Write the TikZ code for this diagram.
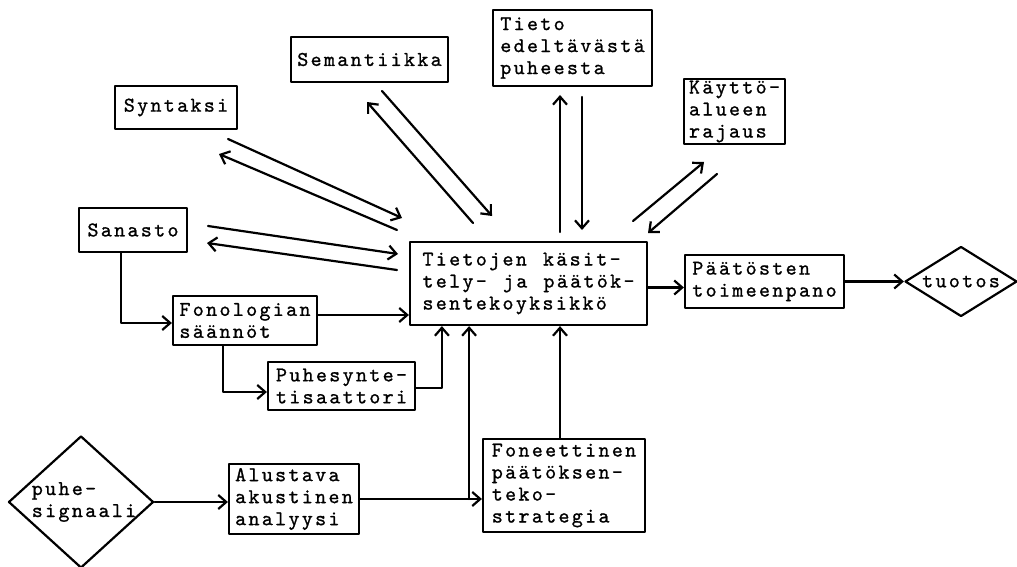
\documentclass[tikz,border=0pt]{standalone}
\usepackage{fontspec}
\setmonofont{lmmono10-regular.otf}[LetterSpace=11,WordSpace=1.21,FakeBold=1]
\usetikzlibrary{arrows.meta,calc,shapes.geometric}

\tikzset{
  txt/.style={align=left, inner sep=0pt, font=\ttfamily\fontsize{21}{22}\selectfont},
  box/.style={txt, draw, rectangle},
  diam/.style={draw, diamond, inner sep=0pt},
}

\begin{document}
\begin{tikzpicture}[x=1pt, y=-1pt, line width=2.2pt, line cap=round, line join=round, >={Straight Barb[length=8pt,width=14pt]}]
  \useasboundingbox (0,0) rectangle (1017,567);
  % --- knowledge sources ---
  \node[box, minimum width=157pt, minimum height=45pt] (sem) at (369.5,59.5) {Semantiikka};
  \node[box, minimum width=122pt, minimum height=43pt] (syn) at (176,107.5) {Syntaksi};
  \node[box, minimum width=108pt, minimum height=44pt] (san) at (133,230) {Sanasto};
  \node[box, minimum width=159pt, minimum height=76pt] (tie) at (572.5,48) {Tieto\\edeltävästä\\puheesta};
  \node[box, minimum width=101pt, minimum height=65pt] (kay) at (734.5,111.5) {Käyttö-\\alueen\\rajaus};
  % --- central unit and output ---
  \node[box, minimum width=237pt, minimum height=83pt] (cen) at (528.5,283.5) {Tietojen käsit-\\tely- ja päätök-\\sentekoyksikkö};
  \node[box, minimum width=159pt, minimum height=53pt] (paa) at (764.5,281.5) {Päätösten\\toimeenpano};
  \node[diam, txt, draw, minimum width=112pt, minimum height=70pt, aspect=1.6] (tuo) at (961,281.5) {tuotos};
  % --- left side ---
  \node[box, minimum width=144pt, minimum height=49pt] (fon) at (245,320.5) {Fonologian\\säännöt};
  \node[box, minimum width=147pt, minimum height=48pt] (puh) at (341.5,386) {Puhesynte-\\tisaattori};
  % --- input side ---
  \node[diam, minimum width=145pt, minimum height=132pt] (sig) at (81,502) {};
  \node[txt] (sigtxt) at (84,502) {puhe-\\signaali};
  \node[box, minimum width=130pt, minimum height=70pt] (alu) at (294,499) {Alustava\\akustinen\\analyysi};
  \node[box, minimum width=162pt, minimum height=93pt] (fne) at (564,485.5) {Foneettinen\\päätöksen-\\teko-\\strategia};

  % --- two-way links to the central unit ---
  \coordinate (syn1) at (228,139); \coordinate (syn2) at (402,218);
  \coordinate (syn3) at (397,230); \coordinate (syn4) at (219,154);
  \coordinate (sem1) at (382,91);  \coordinate (sem2) at (492,216);
  \coordinate (sem3) at (473,223); \coordinate (sem4) at (367,102);
  \coordinate (tie1) at (560,232); \coordinate (tie2) at (560,95);
  \coordinate (tie3) at (582,97);  \coordinate (tie4) at (582,230);
  \coordinate (kay1) at (633,221); \coordinate (kay2) at (704,162);
  \coordinate (kay3) at (717,174); \coordinate (kay4) at (648,233);
  \coordinate (san1) at (208,226); \coordinate (san2) at (398,254);
  \coordinate (san3) at (397,270); \coordinate (san4) at (207,243);
  \draw[->] (syn1) -- (syn2);
  \draw[->] (syn3) -- (syn4);
  \draw[->] (sem1) -- (sem2);
  \draw[->] (sem3) -- (sem4);
  \draw[->] (tie1) -- (tie2);
  \draw[->] (tie3) -- (tie4);
  \draw[->] (kay1) -- (kay2);
  \draw[->] (kay3) -- (kay4);
  \draw[->] (san1) -- (san2);
  \draw[->] (san3) -- (san4);

  % --- flow lines ---
  \draw[->] ([xshift=-12pt]san.south) |- ([yshift=-2.5pt]fon.west);
  \draw[->] ([yshift=5.5pt]fon.east) -- ([yshift=5.5pt]fon.east -| cen.west);
  \draw[->] ([xshift=-22pt]fon.south) |- ([yshift=-6pt]puh.west);
  \draw[->] ([yshift=-2pt]puh.east) -| ([xshift=33pt]cen.south west);
  \draw[->] (sig.east) -- (sig.east -| alu.west);
  \coordinate (jn) at ($(alu.east)!0.895!(alu.east -| fne.west)$);
  \draw[->] (alu.east) -- (alu.east -| fne.west);
  \draw[->] (jn) -- (jn |- cen.south);
  \draw[->] ([xshift=-4pt]fne.north) -- ([xshift=-4pt]fne.north |- cen.south);
  \draw[->] ([yshift=-4pt]cen.east) -- ([yshift=-4pt]cen.east -| paa.west);
  \draw[->] (paa.east) -- (tuo.west);
\end{tikzpicture}
\end{document}
